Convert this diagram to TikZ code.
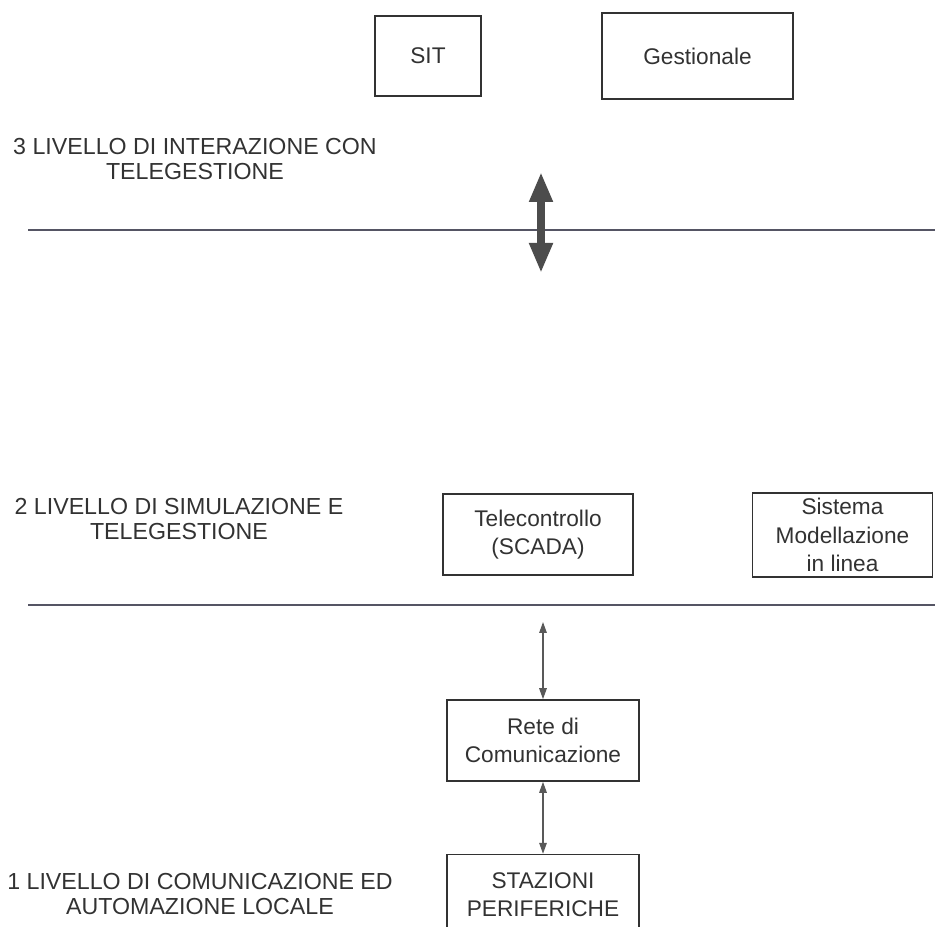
\documentclass[tikz,border=0pt]{standalone}
\usepackage{fontspec}
\setmainfont{Liberation Sans}
\usetikzlibrary{arrows.meta,positioning}
\definecolor{inkgray}{RGB}{50,50,50}
\definecolor{rulegray}{RGB}{85,85,100}
\tikzset{
  box/.style={draw=inkgray, line width=0.9pt, align=center, inner sep=2pt, text=inkgray, font=\fontsize{12.9}{16}\selectfont},
  lvl/.style={align=center, inner sep=0pt, text=inkgray, font=\fontsize{13.2}{14.3}\selectfont},
  levelline/.style={draw=rulegray, line width=1pt},
  biarrow/.style={{Triangle[length=2.2mm,width=1.5mm]}-{Triangle[length=2.2mm,width=1.5mm]}, draw=black!65, line width=0.8pt},
  bigarrow/.style={{Triangle[length=6mm,width=4.4mm]}-{Triangle[length=6mm,width=4.4mm]}, draw=black!70, line width=1.6mm},
}
\begin{document}
\begin{tikzpicture}[x=0.2mm, y=-0.2mm]
\clip (0,0) rectangle (935,927);

% livello 3
\node[box, minimum width=21.2mm, minimum height=16mm] (sit) at (428,56) {SIT};
\node[box, minimum width=38.2mm, minimum height=17.2mm] (gest) at (697.5,56) {Gestionale};
\node[lvl, anchor=north] (liv3) at (195,138) {3 LIVELLO DI INTERAZIONE CON\\TELEGESTIONE};
\coordinate (l3a) at (28,230);
\coordinate (l3b) at (935,230);
\draw[levelline] (l3a) -- (l3b);
\coordinate (up3) at (541,172);
\coordinate (dn3) at (541,273);
\draw[bigarrow] (up3) -- (dn3);

% livello 2
\node[lvl, anchor=north] (liv2) at (179,498) {2 LIVELLO DI SIMULAZIONE E\\TELEGESTIONE};
\node[box, minimum width=38mm, minimum height=16.2mm] (scada) at (538,534.5) {Telecontrollo\\(SCADA)};
\node[box, minimum width=36mm, minimum height=16.8mm] (model) at (842.5,535) {Sistema\\Modellazione\\in linea};
\coordinate (l2a) at (28,605);
\coordinate (l2b) at (935,605);
\draw[levelline] (l2a) -- (l2b);

% livello 1
\coordinate (up2) at (543,622);
\node[box, minimum width=38.4mm, minimum height=16.2mm] (rete) at (543,740.5) {Rete di\\Comunicazione};
\draw[biarrow] (up2) -- (rete);
\node[box, minimum width=38.4mm, minimum height=16mm, below=14.4mm of rete] (staz) {STAZIONI\\PERIFERICHE};
\draw[biarrow] (rete) -- (staz);
\node[lvl, anchor=north] (liv1) at (200,873) {1 LIVELLO DI COMUNICAZIONE ED\\AUTOMAZIONE LOCALE};
\end{tikzpicture}
\end{document}
